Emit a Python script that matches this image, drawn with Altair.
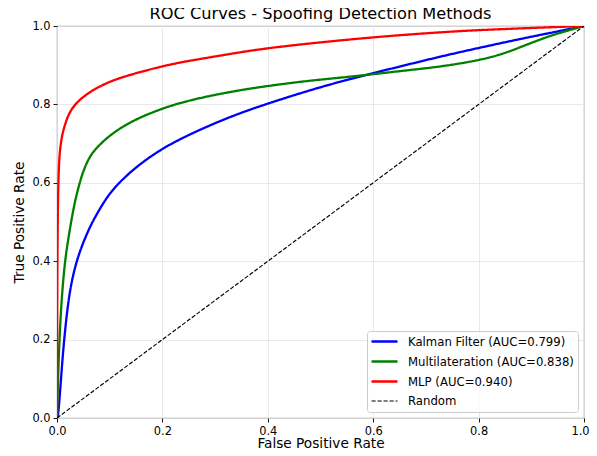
import altair as alt
import pandas as pd

methods = ["Kalman Filter (AUC=0.799)", "Multilateration (AUC=0.838)", "MLP (AUC=0.940)", "Random"]
colors = ["#0000ff", "#008000", "#ff0000", "#000000"]
dashes = [[1, 0], [1, 0], [1, 0], [4.2, 1.8]]
widths = [2.3, 2.3, 2.3, 1.14]

kalman_fpr = [0, 0.002, 0.004, 0.0076, 0.0133, 0.0215, 0.028, 0.034, 0.043, 0.053, 0.062, 0.072, 0.091, 0.107, 0.123, 0.154, 0.2, 0.249, 0.3125, 0.376, 0.474, 0.537, 0.6, 0.664, 0.727, 0.8, 0.879, 0.942, 1.0]
kalman_tpr = [0, 0.005, 0.035, 0.10, 0.20, 0.30, 0.348, 0.384, 0.424, 0.458, 0.486, 0.512, 0.556, 0.584, 0.607, 0.645, 0.688, 0.722, 0.760, 0.792, 0.834, 0.858, 0.880, 0.901, 0.922, 0.944, 0.967, 0.984, 1.0]

multi_fpr = [0, 0.001, 0.002, 0.0045, 0.009, 0.015, 0.0215, 0.028, 0.034, 0.041, 0.047, 0.053, 0.059, 0.066, 0.075, 0.091, 0.107, 0.123, 0.154, 0.2, 0.249, 0.3125, 0.376, 0.474, 0.537, 0.6, 0.664, 0.727, 0.8, 0.847, 0.879, 0.91, 0.942, 1.0]
multi_tpr = [0, 0.055, 0.10, 0.20, 0.31, 0.40, 0.458, 0.51, 0.552, 0.59, 0.618, 0.64, 0.658, 0.674, 0.689, 0.710, 0.727, 0.742, 0.765, 0.790, 0.810, 0.828, 0.843, 0.860, 0.868, 0.877, 0.887, 0.896, 0.912, 0.929, 0.946, 0.962, 0.978, 1.0]

mlp_fpr = [0, 0.0003, 0.0008, 0.0015, 0.0025, 0.004, 0.0057, 0.0085, 0.012, 0.0215, 0.034, 0.059, 0.091, 0.123, 0.2, 0.249, 0.3125, 0.4, 0.6, 0.727, 0.8, 1.0]
mlp_tpr = [0, 0.20, 0.40, 0.52, 0.60, 0.655, 0.684, 0.712, 0.735, 0.775, 0.801, 0.830, 0.853, 0.870, 0.898, 0.911, 0.925, 0.945, 0.972, 0.984, 0.990, 1.0]

random_fpr = [0, 1]
random_tpr = [0, 1]

ticks = [0.0, 0.2, 0.4, 0.6, 0.8, 1.0]

rows = []
for name, fpr, tpr in [
    (methods[0], kalman_fpr, kalman_tpr),
    (methods[1], multi_fpr, multi_tpr),
    (methods[2], mlp_fpr, mlp_tpr),
    (methods[3], random_fpr, random_tpr),
]:
    for i, (x, y) in enumerate(zip(fpr, tpr)):
        rows.append({"method": name, "fpr": x, "tpr": y, "order": i})
df = pd.DataFrame(rows)

FONT = "DejaVu Sans"

def make_legend():
    return alt.Legend(
        title=None,
        orient="bottom-right",
        offset=6,
        symbolType="M-1.2,0H4",
        symbolSize=100,
        labelOffset=24,
        padding=4,
        rowPadding=6,
        fillColor="rgba(255,255,255,0.8)",
        strokeColor="#cccccc",
        cornerRadius=3,
        labelFont=FONT,
        labelFontSize=11.7,
        labelColor="black",
        labelLimit=400,
    )

chart = alt.Chart(df).mark_line(interpolate="basis", clip=True).encode(
    x=alt.X(
        "fpr:Q",
        scale=alt.Scale(domain=[0, 1], nice=False, zero=False),
        axis=alt.Axis(title="False Positive Rate", values=ticks, format=".1f",
                      titleY=29, titleBaseline="alphabetic",
                      labelOffset=alt.condition("datum.value >= 1", alt.value(-4), alt.value(0))),
    ),
    y=alt.Y(
        "tpr:Q",
        scale=alt.Scale(domain=[0, 1], nice=False, zero=False),
        axis=alt.Axis(title="True Positive Rate", values=ticks, format=".1f",
                      titleX=-34, titleBaseline="alphabetic"),
    ),
    color=alt.Color("method:N", scale=alt.Scale(domain=methods, range=colors), legend=make_legend()),
    strokeDash=alt.StrokeDash("method:N", scale=alt.Scale(domain=methods, range=dashes), legend=make_legend()),
    strokeWidth=alt.StrokeWidth("method:N", scale=alt.Scale(type="ordinal", domain=methods, range=widths), legend=make_legend()),
    order="order:Q",
).properties(
    width=527,
    height=392,
    autosize=alt.AutoSizeParams(type="none"),
    padding={"left": 49, "top": 18, "right": 5, "bottom": 30},
    title=alt.TitleParams("ROC Curves - Spoofing Detection Methods", font=FONT, fontSize=16.2,
                          fontWeight="normal", color="black", anchor="middle",
                          baseline="alphabetic", offset=-15),
).configure_view(
    stroke="black", strokeWidth=0.9
).configure_axis(
    domain=False,
    grid=True,
    gridColor="#e7e7e7",
    gridWidth=0.9,
    ticks=True,
    tickColor="black",
    tickWidth=0.9,
    tickSize=4,
    labelPadding=3,
    labelFont=FONT,
    labelFontSize=11.4,
    labelColor="black",
    labelFlush=False,
    labelOverlap=False,
    titleFont=FONT,
    titleFontSize=13.7,
    titleFontWeight="normal",
    titleColor="black",
)

chart.save("out.html", embed_options={"renderer": "svg", "actions": False})
